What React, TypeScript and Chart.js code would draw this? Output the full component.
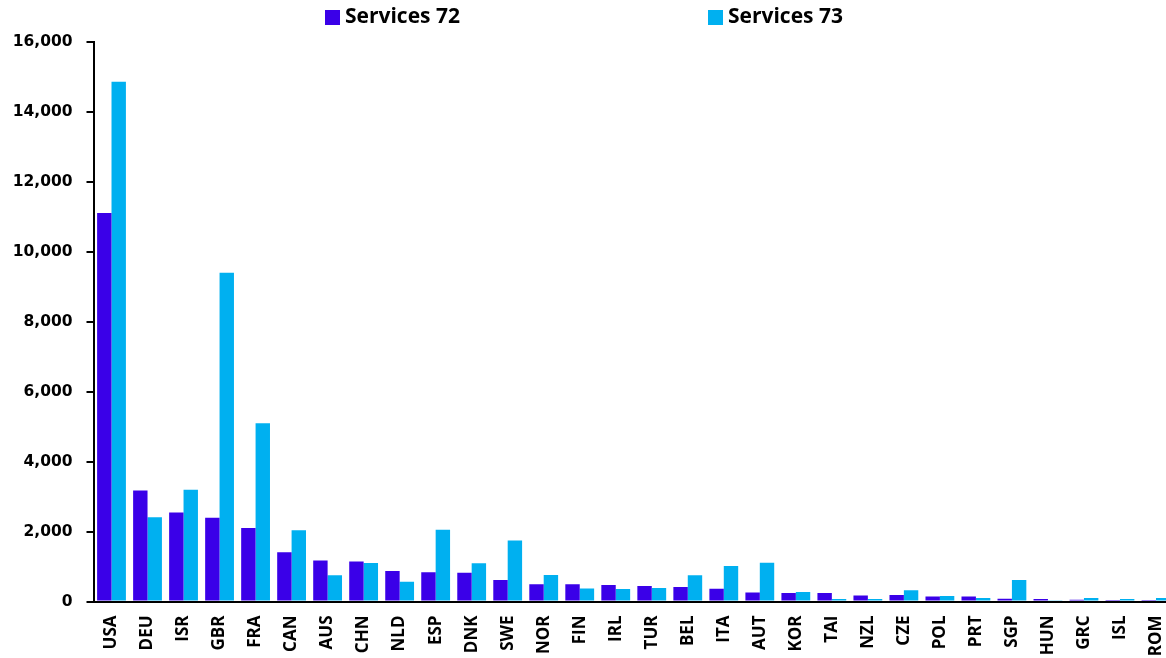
import React, { useEffect, useRef } from 'react';
import { Chart, registerables } from 'chart.js';

Chart.register(...registerables);

const categories = ['USA', 'DEU', 'ISR', 'GBR', 'FRA', 'CAN', 'AUS', 'CHN', 'NLD', 'ESP', 'DNK', 'SWE', 'NOR', 'FIN', 'IRL', 'TUR', 'BEL', 'ITA', 'AUT', 'KOR', 'TAI', 'NZL', 'CZE', 'POL', 'PRT', 'SGP', 'HUN', 'GRC', 'ISL', 'ROM'];
const seriesNames = ['Services 72', 'Services 73'];
const services72 = [11100, 3170, 2540, 2390, 2100, 1405, 1175, 1140, 870, 835, 825, 615, 490, 490, 470, 445, 415, 365, 260, 245, 245, 175, 185, 140, 140, 80, 70, 50, 45, 45];
const services73 = [14850, 2410, 3195, 9390, 5090, 2035, 750, 1100, 565, 2050, 1090, 1740, 760, 375, 355, 385, 750, 1015, 1110, 270, 70, 70, 320, 155, 100, 615, 35, 100, 70, 100];
const yTicks = [0, 2000, 4000, 6000, 8000, 10000, 12000, 14000, 16000];

const DARK = '#3A00E8';
const CYAN = '#00B0F0';
const colors = [DARK, CYAN];
const legendPos = [325, 708];

export default function App() {
  const ref = useRef<HTMLCanvasElement>(null);
  useEffect(() => {
    document.body.style.margin = '0';
    const chart = new Chart(ref.current!, {
      type: 'bar',
      data: {
        labels: categories,
        datasets: [
          { label: seriesNames[0], data: services72, backgroundColor: DARK, barPercentage: 1, categoryPercentage: 0.8 },
          { label: seriesNames[1], data: services73, backgroundColor: CYAN, barPercentage: 1, categoryPercentage: 0.8 },
        ],
      },
      options: {
        responsive: false,
        animation: false,
        layout: { padding: { top: 41.5, left: 0, right: 0, bottom: 0 } },
        plugins: { legend: { display: false }, tooltip: { enabled: false } },
        scales: {
          x: {
            grid: { display: false, drawTicks: false },
            border: { display: true, color: '#000', width: 2 },
            ticks: {
              color: '#000',
              font: { family: '"Open Sans"', weight: 'bold', size: 17 },
              minRotation: 90,
              maxRotation: 90,
              padding: 14,
              autoSkip: false,
            },
            afterFit: (s: any) => { s.height = 56.5; s.paddingLeft = 0; s.paddingRight = 0; },
          },
          y: {
            min: 0,
            max: 16000,
            afterBuildTicks: (s: any) => { s.ticks = yTicks.map((v) => ({ value: v })); },
            ticks: {
              color: '#000',
              font: { family: '"DejaVu Sans"', weight: 'bold', size: 15.5 },
              padding: 14,
              callback: (v: any) => Number(v).toLocaleString('en-US'),
            },
            grid: { drawOnChartArea: false, drawTicks: true, tickLength: 7, color: '#000', lineWidth: 2 },
            border: { display: true, color: '#000', width: 2 },
            afterFit: (s: any) => { s.width = 93.5; },
          },
        },
      },
    });
    return () => chart.destroy();
  }, []);

  return (
    <div style={{ position: 'relative', width: 1166, height: 658, overflow: 'hidden', background: '#fff' }}>
      <canvas ref={ref} width={1174} height={658} style={{ position: 'absolute', left: 0, top: 0 }} />
      {seriesNames.map((name, i) => (
        <React.Fragment key={name}>
          <div style={{ position: 'absolute', left: legendPos[i], top: 10, width: 15, height: 15, background: colors[i] }} />
          <div
            style={{
              position: 'absolute',
              left: legendPos[i] + 20,
              top: 4.7,
              fontFamily: '"Open Sans"',
              fontWeight: 'bold',
              fontSize: 21,
              lineHeight: '21px',
              color: '#000',
              whiteSpace: 'nowrap',
            }}
          >
            {name}
          </div>
        </React.Fragment>
      ))}
    </div>
  );
}
